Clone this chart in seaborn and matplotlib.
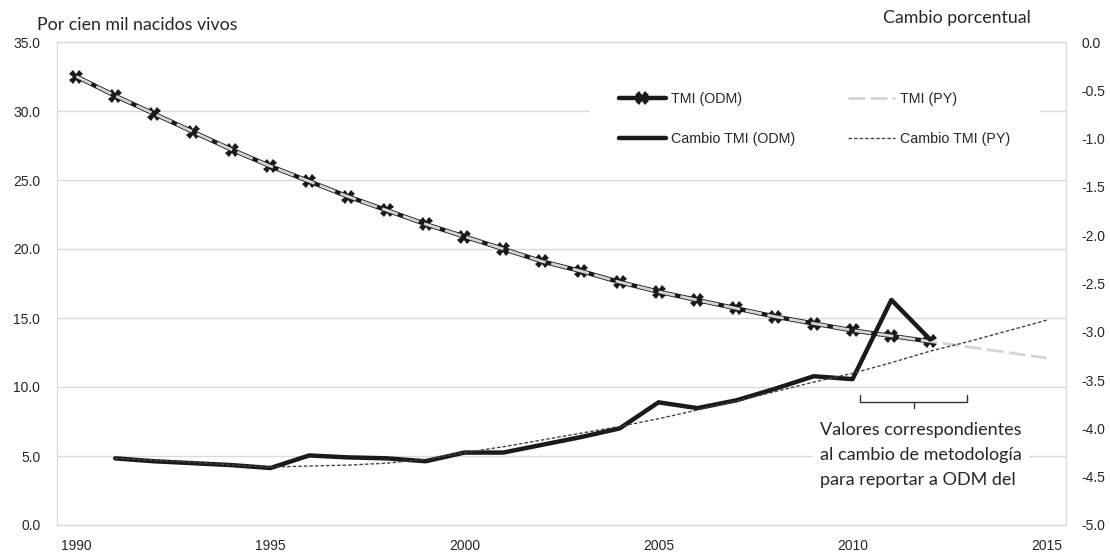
import numpy as np
import pandas as pd
import matplotlib
matplotlib.use("Agg")
import matplotlib.pyplot as plt
import seaborn as sns

years_odm = list(range(1990, 2013))
tmi_odm = [32.5, 31.1, 29.8, 28.5, 27.2, 26.0, 24.9, 23.8, 22.8, 21.8, 20.9, 20.0,
           19.1, 18.4, 17.6, 16.9, 16.3, 15.7, 15.1, 14.6, 14.1, 13.7, 13.3]

years_py = list(range(1990, 2016))
tmi_py = tmi_odm + [12.9, 12.5, 12.1]

years_chg_odm = list(range(1991, 2013))
chg_odm = [-4.31, -4.34, -4.36, -4.38, -4.41, -4.28, -4.30, -4.31, -4.34, -4.25, -4.25,
           -4.17, -4.09, -4.00, -3.73, -3.79, -3.71, -3.59, -3.46, -3.49, -2.67, -3.08]

years_chg_py = list(range(1991, 2016))
chg_py = [-4.31, -4.33, -4.35, -4.38, -4.40, -4.39, -4.38, -4.36, -4.32, -4.25, -4.19,
          -4.12, -4.05, -3.98, -3.90, -3.81, -3.72, -3.62, -3.52, -3.43, -3.32, -3.20,
          -3.10, -2.99, -2.88]

x_ticks = [1990, 1995, 2000, 2005, 2010, 2015]
left_ticks = np.arange(0, 35.1, 5)
right_ticks = np.arange(-5, 0.01, 0.5)

NOTE = "Valores correspondientes\nal cambio de metodología\npara reportar a ODM del"
BRACKET = (2010.2, 2012.95)

TICK_FONT = ['Liberation Sans', 'DejaVu Sans']
TEXT_FONT = ['Lato', 'DejaVu Sans']


def main():
    sns.set_style("white")
    plt.rcParams['font.family'] = TICK_FONT

    fig = plt.figure(figsize=(11.1, 5.52), dpi=100)
    ax = fig.add_axes([57 / 1110, 27 / 552, 1009 / 1110, 483 / 552])
    ax2 = ax.twinx()

    df_odm = pd.DataFrame({'year': years_odm, 'tmi': tmi_odm})
    df_py = pd.DataFrame({'year': years_py, 'tmi': tmi_py})
    df_codm = pd.DataFrame({'year': years_chg_odm, 'chg': chg_odm})
    df_cpy = pd.DataFrame({'year': years_chg_py, 'chg': chg_py})

    sns.lineplot(data=df_odm, x='year', y='tmi', ax=ax, color='#1a1a1a', lw=3.2,
                 marker='X', markersize=9.5, markeredgewidth=0, errorbar=None,
                 label='TMI (ODM)', zorder=3)
    sns.lineplot(data=df_py, x='year', y='tmi', ax=ax, color='#d4d4d4', lw=2,
                 linestyle=(0, (6, 2)), errorbar=None, label='TMI (PY)', zorder=4)

    sns.lineplot(data=df_codm, x='year', y='chg', ax=ax2, color='#1a1a1a', lw=3.2,
                 errorbar=None, label='Cambio TMI (ODM)', zorder=3)
    sns.lineplot(data=df_cpy, x='year', y='chg', ax=ax2, color='#444444', lw=1,
                 linestyle=(0, (2.5, 1.5)), errorbar=None, label='Cambio TMI (PY)', zorder=4)

    ax.set_xlim(1989.5, 2015.5)
    ax.set_ylim(0, 35)
    ax2.set_ylim(-5, 0)
    ax.set_xticks(x_ticks)
    ax.set_yticks(left_ticks)
    ax2.set_yticks(right_ticks)
    ax.set_yticklabels([f"{v:.1f}" for v in left_ticks])
    ax2.set_yticklabels([f"{v:.1f}" for v in right_ticks])
    ax.set_xlabel("")
    ax.set_ylabel("")
    ax2.set_ylabel("")

    ax.grid(axis='y', color='#d9d9d9', lw=1)
    ax.set_axisbelow(True)
    for a in (ax, ax2):
        for s in a.spines.values():
            s.set_color('#d9d9d9')
        a.tick_params(length=0, labelsize=10, colors='#262626')
    ax.tick_params(axis='y', pad=12)
    ax2.tick_params(axis='y', pad=11)
    ax.tick_params(axis='x', pad=10)

    # legend
    ax.get_legend().remove()
    h1, l1 = ax.get_legend_handles_labels()
    h2, l2 = ax2.get_legend_handles_labels()
    handles = [h1[0], h2[0], h1[1], h2[1]]
    labels = [l1[0], l2[0], l1[1], l2[1]]
    leg = ax2.legend(handles, labels, ncol=2, loc='upper left',
                     bbox_to_anchor=(590 / 1110, 1 - 63 / 552), bbox_transform=fig.transFigure,
                     borderaxespad=0, frameon=True, fancybox=False,
                     facecolor='white', edgecolor='white', framealpha=1,
                     fontsize=10.3, handlelength=3.3, handletextpad=0.35,
                     columnspacing=3.7, labelspacing=1.85, borderpad=2.0)
    for t in leg.get_texts():
        t.set_color('#262626')

    # bracket + note
    y_b, y_e = 8.9, 9.4
    ax.plot([BRACKET[0], BRACKET[0], BRACKET[1], BRACKET[1]], [y_e, y_b, y_b, y_e],
            color='#333333', lw=1, zorder=5)
    mid = (BRACKET[0] + BRACKET[1]) / 2
    ax.plot([mid, mid], [y_b, y_b - 0.45], color='#333333', lw=1, zorder=5)
    ax.text(2009.16, 7.5, NOTE, ha='left', va='top', fontsize=13,
            family=TEXT_FONT, color='#262626', linespacing=1.72, zorder=6,
            bbox=dict(facecolor='white', edgecolor='none', pad=5))

    fig.text(37 / 1110, 1 - 25 / 552, "Por cien mil nacidos vivos", ha='left',
             va='center', fontsize=12.8, family=TEXT_FONT, color='#262626')
    fig.text(883 / 1110, 1 - 18 / 552, "Cambio porcentual", ha='left',
             va='center', fontsize=12.8, family=TEXT_FONT, color='#262626')

    fig.savefig("out.png", dpi=100)


if __name__ == "__main__":
    main()
